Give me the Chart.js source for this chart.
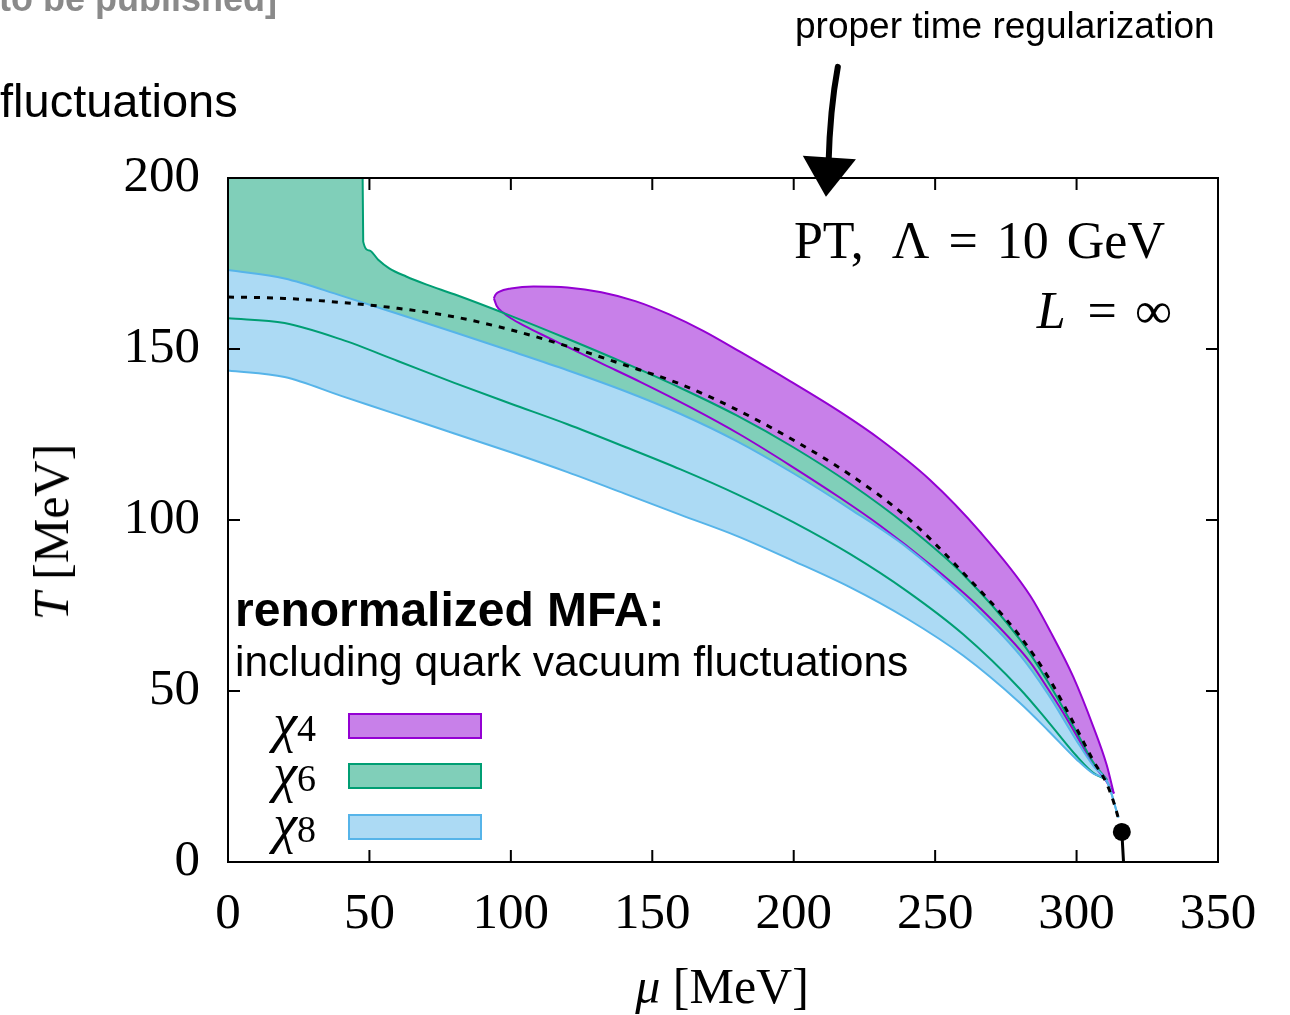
<!DOCTYPE html>
<html>
<head>
<meta charset="utf-8">
<script src="https://cdn.jsdelivr.net/npm/chart.js@4.4.1/dist/chart.umd.min.js"></script>
<style>
  html, body { margin: 0; padding: 0; background: #fff; }
  #wrap { position: relative; width: 1290px; height: 1015px; overflow: hidden; }
  #phase { position: absolute; left: 0; top: 0; }
  .txt { position: absolute; white-space: nowrap; line-height: 1; color: #000; }
  .sans { font-family: "Liberation Sans", Arial, sans-serif; }
  .serif { font-family: "Liberation Serif", "DejaVu Serif", serif; }
  .box { position: absolute; width: 130px; height: 22px; border: 2px solid; }
  .sub { font-size: 38px; font-style: normal; }
</style>
</head>
<body>
<div id="wrap">
  <canvas id="phase" width="1290" height="1015"></canvas>

  <div class="txt sans" style="right:1013px; top:-19px; font-size:36px; font-weight:bold; color:#8a8a8a;">[to be published]</div>
  <div class="txt sans" style="left:0; top:77px; font-size:47px;">fluctuations</div>
  <div class="txt sans" style="left:795px; top:7px; font-size:37px;">proper time regularization</div>

  <div class="txt serif" style="right:125px; top:215px; font-size:52px;">PT,<span style="margin-left:28px;">Λ</span><span style="margin:0 19px;">=</span>10<span style="margin-left:18px;">GeV</span></div>
  <div class="txt serif" style="right:118px; top:285px; font-size:52px;"><i>L</i><span style="margin:0 18px 0 22px;">=</span>∞</div>

  <div class="txt sans" style="left:235px; top:586px; font-size:48px; font-weight:bold;">renormalized MFA:</div>
  <div class="txt sans" style="left:235px; top:641px; font-size:42.5px;">including quark vacuum fluctuations</div>

  <div class="txt serif" style="right:974px; top:696px; font-size:54px;"><i>χ</i><span class="sub">4</span></div>
  <div class="txt serif" style="right:974px; top:746px; font-size:54px;"><i>χ</i><span class="sub">6</span></div>
  <div class="txt serif" style="right:974px; top:797px; font-size:54px;"><i>χ</i><span class="sub">8</span></div>
  <div class="box" style="left:348px; top:713px; background:#c880e9; border-color:#9400d3;"></div>
  <div class="box" style="left:348px; top:763px; background:#80cfb9; border-color:#009e73;"></div>
  <div class="box" style="left:348px; top:814px; background:#acdaf4; border-color:#56b4e9;"></div>

  <div class="txt serif" style="left:722px; top:961px; font-size:50px; transform:translateX(-50%);"><i>μ</i> [MeV]</div>
  <div class="txt serif" style="left:51px; top:532px; font-size:50px; transform:translate(-50%,-50%) rotate(-90deg);"><i>T</i> [MeV]</div>
</div>

<script>
// chi_8 band
const chi8UpperMu = [0, 20, 40, 60, 80, 100, 120, 140, 160, 180, 200, 220, 240, 260, 280, 290, 300, 306, 310.8, 314.8];
const chi8UpperT  = [173.1, 170.6, 165.6, 160.3, 154.9, 149.4, 143.8, 137.8, 131.0, 123.0, 113.6, 103.2, 92.0, 77.6, 60.5, 49.0, 35.5, 28.0, 23.5, 13.0];
const chi8LowerMu = [0, 20, 40, 60, 80, 100, 120, 140, 160, 180, 200, 220, 240, 260, 280, 290, 300, 306, 310.8, 314.8];
const chi8LowerT  = [143.7, 141.8, 136.3, 130.8, 125.3, 119.8, 114.0, 107.8, 101.5, 95.3, 88.0, 80.3, 71.2, 60.3, 46.5, 38.4, 30.0, 25.8, 23.5, 13.0];

// chi_6 band
const chi6UpperMu = [0, 47.6, 47.8, 50, 53, 57, 63, 70, 80, 100, 120, 140, 160, 180, 200, 220, 240, 260, 280, 290, 300, 306, 310.8];
const chi6UpperT  = [200, 200, 181.4, 178.8, 176.2, 173.6, 171.2, 168.9, 166.0, 159.7, 153.0, 146.0, 138.6, 130.5, 121.2, 110.6, 98.4, 84.0, 65.0, 52.5, 38.0, 29.0, 24.0];
const chi6LowerMu = [0, 20, 40, 60, 80, 100, 120, 140, 160, 180, 200, 220, 240, 260, 280, 290, 300, 306, 310.8];
const chi6LowerT  = [159.0, 157.6, 152.8, 146.5, 140.1, 134.0, 128.0, 121.5, 114.8, 107.5, 99.3, 90.0, 79.2, 66.5, 50.6, 41.0, 31.0, 26.0, 24.0];

// chi_4 region (upper and lower branch meet at both ends)
const chi4UpperMu = [94, 94.5, 96, 100, 108, 120, 132, 144, 156, 168, 181, 198.7, 216.4, 230.5, 248.2, 265.9, 283.5, 291, 298.8, 305.9, 310.6, 313.2];
const chi4UpperT  = [164.8, 165.8, 166.8, 167.7, 168.3, 168.0, 166.6, 164.0, 160.1, 155.3, 149.2, 140.6, 131.6, 123.6, 111.7, 96.5, 78.0, 67.0, 54.2, 39.6, 28.5, 20.0];
const chi4LowerMu = [94, 95, 97, 100, 105, 112, 120, 131.5, 145.7, 163.4, 181, 198.7, 216.4, 230.5, 248.2, 265.9, 283.5, 290, 295, 300, 306, 310.6, 313.2];
const chi4LowerT  = [164.8, 162.6, 160.8, 159.0, 156.7, 153.8, 150.6, 146.0, 140.4, 133.0, 125.0, 116.0, 106.5, 98.4, 87.0, 74.2, 58.5, 50.5, 44.0, 37.0, 28.5, 23.5, 20.0];

// dashed transition line and end point
const dashedMu = [0, 20, 40, 60, 80, 100, 120, 140, 160, 180, 200, 220, 240, 260, 280, 290, 300, 306, 310.6, 313.5, 316];
const dashedT  = [165.2, 164.8, 163.6, 161.9, 159.4, 155.6, 150.8, 145.4, 139.7, 132.2, 123.3, 113.2, 100.8, 84.5, 66.0, 54.0, 39.0, 29.5, 23.0, 16.5, 8.8];
const endMu = [316.6, 316];
const endT  = [0, 8.8];
const pointMu = [316];
const pointT  = [8.8];

const xTicks = [0, 50, 100, 150, 200, 250, 300, 350];
const yTicks = [0, 50, 100, 150, 200];

const serif = '"Liberation Serif", "DejaVu Serif", serif';

function pts(xs, ys) {
    return xs.map((x, i) => ({ x: x, y: ys[i] }));
}

// frame + inward ticks, arrow at the top
const framePlugin = {
    id: 'frame',
    afterDatasetsDraw(chart) {
        const { ctx, chartArea: a, scales } = chart;
        ctx.save();
        ctx.strokeStyle = '#000';
        ctx.lineWidth = 2;
        ctx.beginPath();
        xTicks.forEach(v => {
            const px = scales.x.getPixelForValue(v);
            ctx.moveTo(px, a.bottom); ctx.lineTo(px, a.bottom - 12);
            ctx.moveTo(px, a.top); ctx.lineTo(px, a.top + 12);
        });
        yTicks.forEach(v => {
            const py = scales.y.getPixelForValue(v);
            ctx.moveTo(a.left, py); ctx.lineTo(a.left + 12, py);
            ctx.moveTo(a.right, py); ctx.lineTo(a.right - 12, py);
        });
        ctx.stroke();
        ctx.strokeRect(a.left, a.top, a.right - a.left, a.bottom - a.top);

        // hand drawn arrow "proper time regularization"
        const X = v => scales.x.getPixelForValue(v);
        const Y = v => scales.y.getPixelForValue(v);
        ctx.lineWidth = 6;
        ctx.lineCap = 'round';
        ctx.beginPath();
        ctx.moveTo(X(215.6), Y(232.5));
        ctx.quadraticCurveTo(X(212.8), Y(220), X(212.3), Y(204));
        ctx.stroke();
        ctx.fillStyle = '#000';
        ctx.beginPath();
        ctx.moveTo(X(203.2), Y(206.5));
        ctx.lineTo(X(222.0), Y(205.5));
        ctx.lineTo(X(211.4), Y(194.5));
        ctx.closePath();
        ctx.fill();
        ctx.restore();
    }
};

const ctx = document.getElementById('phase').getContext('2d');
const chart = new Chart(ctx, {
    type: 'line',
    data: {
        datasets: [
            { data: pts(dashedMu, dashedT), borderColor: '#000', borderWidth: 3, borderDash: [6, 7], fill: false },
            { data: pts(endMu, endT), borderColor: '#000', borderWidth: 3, fill: false },
            { data: pts(pointMu, pointT), showLine: false, pointRadius: 9, pointBackgroundColor: '#000', pointBorderWidth: 0 },
            { data: pts(chi8UpperMu, chi8UpperT), borderColor: '#56b4e9', borderWidth: 2, backgroundColor: '#acdaf4', fill: '+1' },
            { data: pts(chi8LowerMu, chi8LowerT), borderColor: '#56b4e9', borderWidth: 2, fill: false },
            { data: pts(chi6UpperMu, chi6UpperT), borderColor: '#009e73', borderWidth: 2, backgroundColor: '#80cfb9', fill: '+1' },
            { data: pts(chi6LowerMu, chi6LowerT), borderColor: '#009e73', borderWidth: 2, fill: false },
            { data: pts(chi4UpperMu, chi4UpperT), borderColor: '#9400d3', borderWidth: 2, backgroundColor: '#c880e9', fill: '+1' },
            { data: pts(chi4LowerMu, chi4LowerT), borderColor: '#9400d3', borderWidth: 2, fill: false }
        ]
    },
    options: {
        responsive: false,
        animation: false,
        layout: { padding: { top: 178, right: 72, left: 0, bottom: 0 } },
        elements: { point: { radius: 0 }, line: { cubicInterpolationMode: 'monotone' } },
        plugins: {
            legend: { display: false },
            tooltip: { enabled: false },
            filler: { drawTime: 'beforeDatasetsDraw' }
        },
        scales: {
            x: {
                type: 'linear', min: 0, max: 350,
                afterBuildTicks: s => { s.ticks = xTicks.map(v => ({ value: v })); },
                afterFit: s => { s.height = 153; },
                grid: { display: false },
                border: { display: false },
                ticks: { padding: 14, maxRotation: 0, color: '#000', font: { family: serif, size: 51 } }
            },
            y: {
                type: 'linear', min: 0, max: 200,
                afterBuildTicks: s => { s.ticks = yTicks.map(v => ({ value: v })); },
                afterFit: s => { s.width = 228; },
                grid: { display: false },
                border: { display: false },
                ticks: { padding: 20, color: '#000', font: { family: serif, size: 51 } }
            }
        }
    },
    plugins: [framePlugin]
});
</script>
</body>
</html>
